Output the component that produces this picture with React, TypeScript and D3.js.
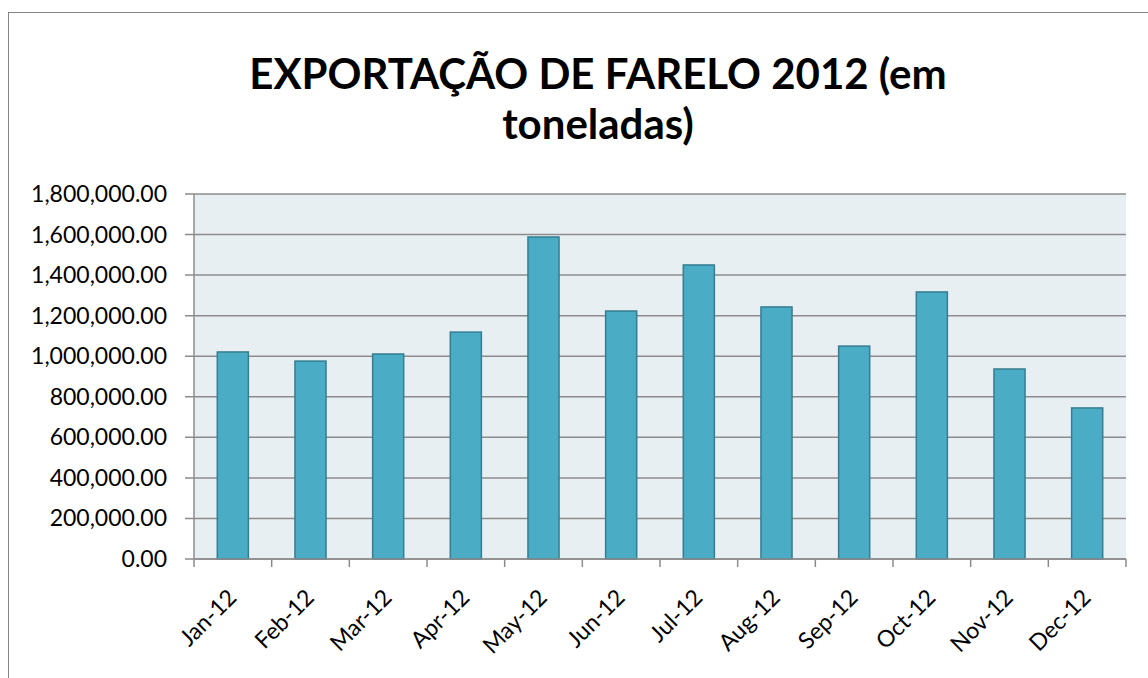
import * as React from 'react';
import { useRef, useEffect } from 'react';
import * as d3 from 'd3';

const months = ['Jan-12', 'Feb-12', 'Mar-12', 'Apr-12', 'May-12', 'Jun-12', 'Jul-12', 'Aug-12', 'Sep-12', 'Oct-12', 'Nov-12', 'Dec-12'];
const exports2012 = [1021000, 976000, 1011000, 1119000, 1588000, 1223000, 1450000, 1243000, 1050000, 1317000, 937000, 745000];
const yTicks = [0, 200000, 400000, 600000, 800000, 1000000, 1200000, 1400000, 1600000, 1800000];
const titleLines = ['EXPORTAÇÃO DE FARELO 2012 (em', 'toneladas)'];

const W = 1148;
const H = 678;
const font = 'Lato, "Open Sans", sans-serif';

export default function App() {
  const svgRef = useRef<SVGSVGElement | null>(null);

  useEffect(() => {
    if (!svgRef.current) return;
    const svg = d3.select(svgRef.current);
    svg.selectAll('*').remove();

    const plot = { left: 194, right: 1126, top: 194, bottom: 559 };

    // chart frame
    svg.append('rect')
      .attr('x', 8.5).attr('y', 12.5)
      .attr('width', W + 10).attr('height', H + 10)
      .attr('fill', '#fff').attr('stroke', '#868686').attr('stroke-width', 1);

    const x = d3.scaleBand<string>()
      .domain(months)
      .range([plot.left, plot.right])
      .paddingInner(0.6)
      .paddingOuter(0.3);
    const xCat = d3.scaleBand<string>().domain(months).range([plot.left, plot.right]);
    const y = d3.scaleLinear().domain([0, 1800000]).range([plot.bottom, plot.top]);

    // plot background
    svg.append('rect')
      .attr('x', plot.left).attr('y', plot.top)
      .attr('width', plot.right - plot.left).attr('height', plot.bottom - plot.top)
      .attr('fill', '#e8eff3');

    // gridlines + y labels
    const g = svg.append('g');
    yTicks.forEach(t => {
      g.append('line')
        .attr('x1', plot.left - 9).attr('x2', plot.right)
        .attr('y1', y(t)).attr('y2', y(t))
        .attr('stroke', '#8c8c8c').attr('stroke-width', 1.5);
      g.append('text')
        .attr('x', 167).attr('y', y(t))
        .attr('dy', '0.35em')
        .attr('text-anchor', 'end')
        .attr('font-family', font)
        .attr('font-size', 23)
        .attr('fill', '#000')
        .text(d3.format(',.2f')(t));
    });

    // bars
    svg.append('g').selectAll('rect')
      .data(exports2012)
      .join('rect')
      .attr('x', (d, i) => x(months[i])!)
      .attr('y', d => y(d))
      .attr('width', x.bandwidth())
      .attr('height', d => plot.bottom - y(d))
      .attr('fill', '#4bacc6')
      .attr('stroke', '#357d91')
      .attr('stroke-width', 1.5);

    // axes lines
    svg.append('line')
      .attr('x1', plot.left).attr('x2', plot.left)
      .attr('y1', plot.top).attr('y2', plot.bottom)
      .attr('stroke', '#8c8c8c').attr('stroke-width', 1.5);
    svg.append('line')
      .attr('x1', plot.left).attr('x2', plot.right)
      .attr('y1', plot.bottom).attr('y2', plot.bottom)
      .attr('stroke', '#8c8c8c').attr('stroke-width', 1.5);

    // x ticks at category boundaries
    const bounds = months.map(m => xCat(m)!).concat([plot.right]);
    bounds.forEach(b => {
      svg.append('line')
        .attr('x1', b).attr('x2', b)
        .attr('y1', plot.bottom).attr('y2', plot.bottom + 8)
        .attr('stroke', '#8c8c8c').attr('stroke-width', 1.5);
    });

    // x labels
    months.forEach(m => {
      const cx = xCat(m)! + xCat.bandwidth() / 2;
      svg.append('text')
        .attr('transform', `translate(${cx + 5},${plot.bottom + 40}) rotate(-45)`)
        .attr('text-anchor', 'end')
        .attr('font-family', font)
        .attr('font-size', 23)
        .attr('fill', '#000')
        .text(m);
    });

    // title
    titleLines.forEach((line, i) => {
      svg.append('text')
        .attr('x', 598).attr('y', 89 + i * 50)
        .attr('text-anchor', 'middle')
        .attr('font-family', font)
        .attr('font-weight', 'bold')
        .attr('font-size', 42)
        .attr('fill', '#000')
        .text(line);
    });
  }, []);

  return (
    <div style={{ position: 'absolute', left: 0, top: 0 }}>
      <svg ref={svgRef} width={W} height={H} style={{ display: 'block', background: '#fff' }} />
    </div>
  );
}
